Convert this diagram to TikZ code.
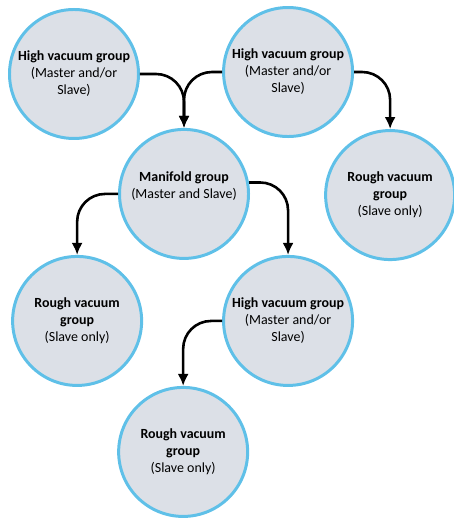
\documentclass[tikz,border=0pt]{standalone}
\usepackage{fontspec}
\setmainfont{Carlito}
\usetikzlibrary{arrows.meta}
\definecolor{ringblue}{RGB}{95,192,232}
\definecolor{discgray}{RGB}{220,224,231}

\begin{document}
\begin{tikzpicture}[every node/.style={circle, draw=ringblue, line width=3pt, fill=discgray, minimum size=4.55cm, inner sep=0pt, align=center, font=\fontsize{14}{17}\selectfont},
  link/.style={line width=2.6pt, rounded corners=28pt, -{Latex[length=12pt,width=11pt]}}]
  \useasboundingbox (0cm, 0cm) rectangle (15.98cm, 18.27cm);
  \node (1) at (2.61cm, 15.66cm) {\textbf{High vacuum group}\\(Master and/or\\Slave)};
  \node (2) at (10.16cm, 15.73cm) {\textbf{High vacuum group}\\(Master and/or\\Slave)};
  \node (3) at (6.49cm, 11.43cm) {\textbf{Manifold group}\\(Master and Slave)\\\mbox{}};
  \node (4) at (13.76cm, 11.39cm) {\textbf{Rough vacuum}\\\textbf{group}\\(Slave only)};
  \node (5) at (2.72cm, 6.95cm) {\textbf{Rough vacuum}\\\textbf{group}\\(Slave only)};
  \node (6) at (10.16cm, 6.95cm) {\textbf{High vacuum group}\\(Master and/or\\Slave)};
  \node (7) at (6.46cm, 2.33cm) {\textbf{Rough vacuum}\\\textbf{group}\\(Slave only)};
  \draw[link] (1.east) -| (3.north);
  \draw[link] (2.west) -| (3.north);
  \draw[link] (2.east) -| (4.north);
  \draw[link] (3.west) -| (5.north);
  \draw[link] (3.10) -| (6.north);
  \draw[link] (6.west) -| (7.north);
\end{tikzpicture}
\end{document}
